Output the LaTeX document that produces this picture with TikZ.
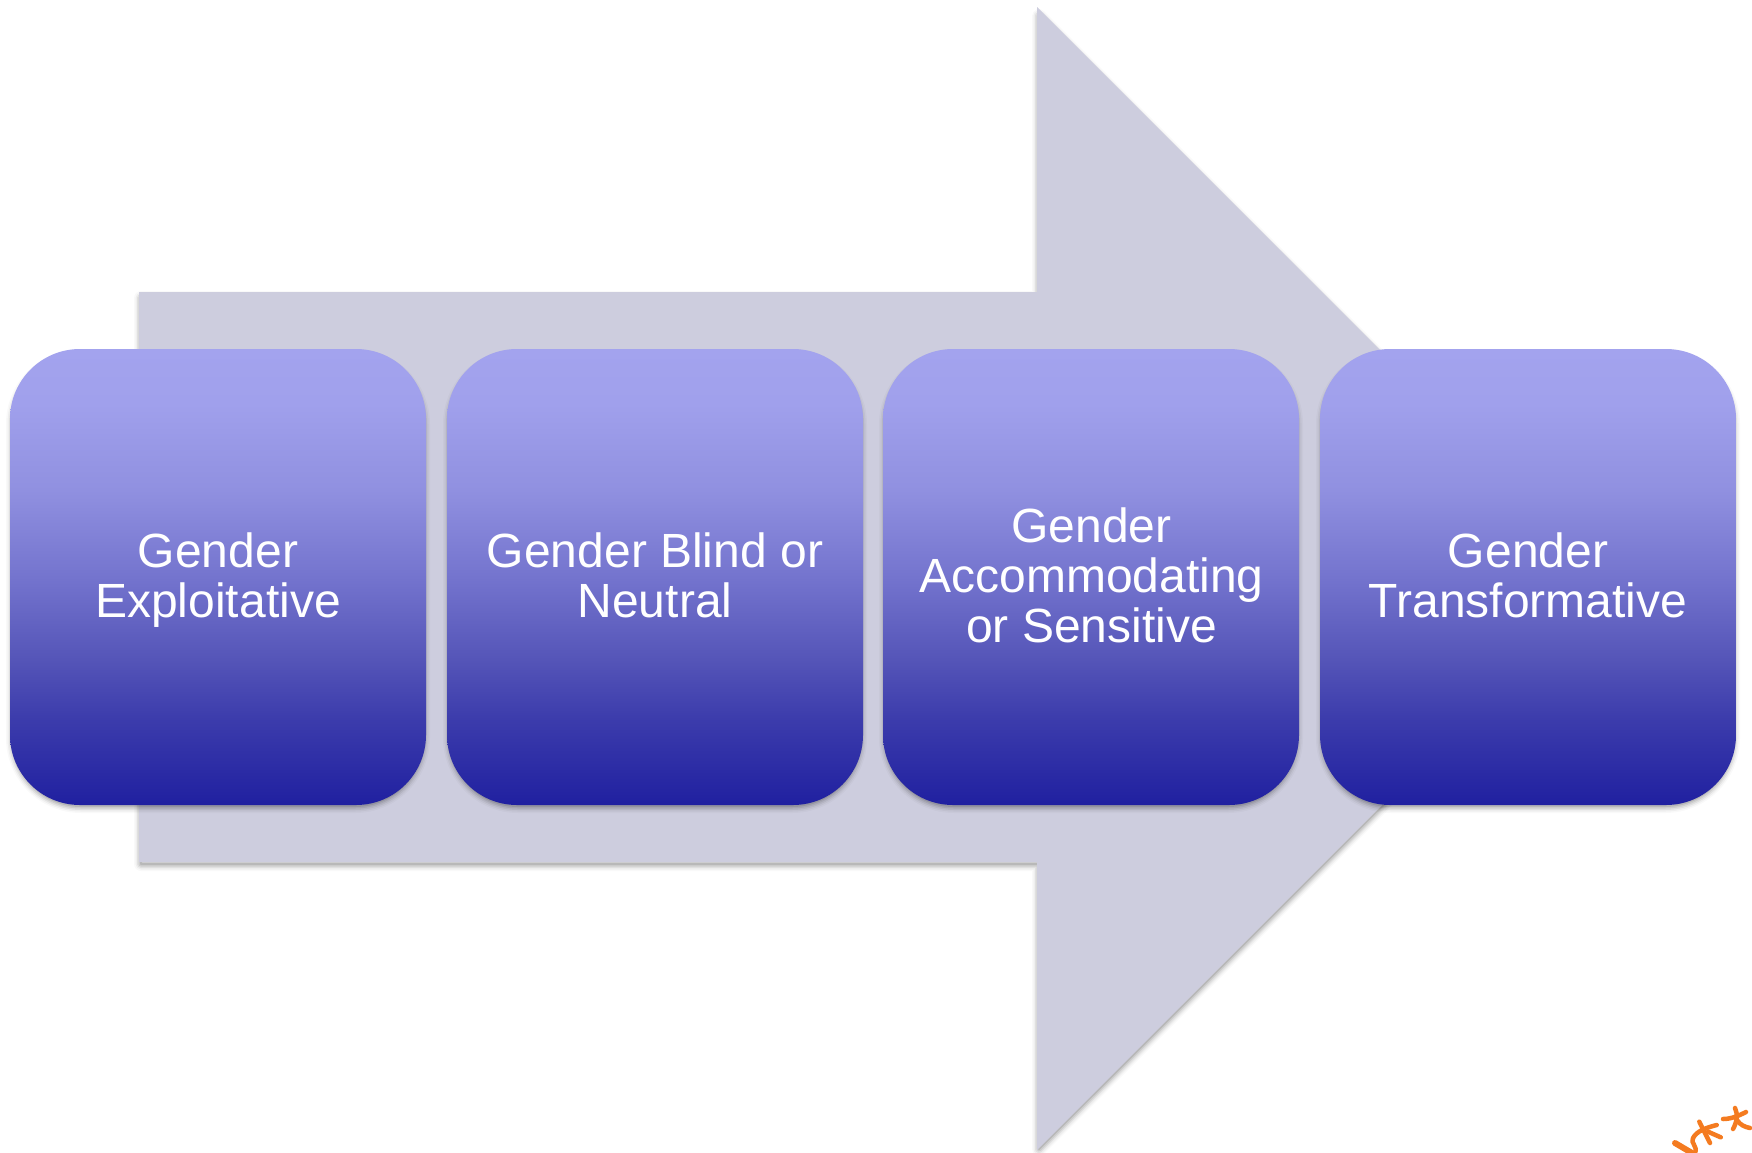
\documentclass[tikz,border=0pt]{standalone}
\usepackage{fontspec}
\setmainfont{Liberation Sans}
\definecolor{gbot}{HTML}{2020A0}
\definecolor{g1}{HTML}{3C3CAC}
\definecolor{g2}{HTML}{5555B8}
\definecolor{g3}{HTML}{7474CE}
\definecolor{g4}{HTML}{9090E0}
\definecolor{g5}{HTML}{A0A0EC}
\definecolor{gtop}{HTML}{A3A3EE}
\definecolor{arrowfill}{HTML}{CDCDDE}
\definecolor{scribble}{HTML}{F47B20}
\pgfdeclareverticalshading{boxgrad}{100bp}{
  color(0bp)=(gbot); color(25bp)=(gbot); color(34.5bp)=(g1); color(41bp)=(g2); color(50bp)=(g3); color(59.5bp)=(g4); color(69bp)=(g5); color(75bp)=(gtop); color(100bp)=(gtop)}
\tikzset{
  x=1pt,y=-1pt,
  boxstyle/.style={shading=boxgrad,rounded corners=70pt},
  labeltext/.style={text=white,align=center,font=\fontsize{48}{50}\selectfont,inner sep=0pt},
  stroke/.style={draw=scribble,line width=4.5pt,line cap=round,line join=round},
}
\newcommand{\softshadow}[1]{%
  \foreach \w/\o in {14/0.025,11/0.04,8/0.06,5/0.08,2/0.10}{
    \draw[black,line width=\w pt,opacity=\o,line join=round] #1;
  }}
\begin{document}
\begin{tikzpicture}
\useasboundingbox (0,0) rectangle (1752,1152);
\fill[white] (0,0) rectangle (1752,1152);
% arrow
\begin{scope}[shift={(0,4)}]
\softshadow{(141,294) -- (1039,294) -- (1039,12) -- (1606,578.5) -- (1039,1145) -- (1039,860) -- (141,860) -- cycle}
\end{scope}
\fill[arrowfill] (139,292) -- (1037,292) -- (1037,7) -- (1608.5,578.5) -- (1037,1150) -- (1037,862) -- (139,862) -- cycle;
% boxes
\foreach \nm/\xa in {a/10,b/447,c/883,d/1320}{
  \begin{scope}[shift={(0,4)}]
  \softshadow{[rounded corners=68pt] ({\xa+3},352) rectangle ++(410,450)}
  \end{scope}
  \path[boxstyle] (\xa,349) rectangle ++(416,456);
}
\node[labeltext] (t1) at (218,580.5) {Gender\\Exploitative};
\node[labeltext] (t2) at (655,575) {Gender Blind or\\Neutral};
\node[labeltext] (t3) at (1091.5,575) {Gender\\Accommodating\\or Sensitive};
\node[labeltext] (t4) at (1528,575) {Gender\\Transformative};
% scribble at the corner
\draw[stroke,line width=6pt] (1675,1143) -- (1692,1153);
\draw[stroke] (1699.3,1121.7) -- (1710,1143);
\draw[stroke] (1716.7,1125) .. controls (1705,1128) and (1697,1131) .. (1693,1138) .. controls (1690,1143) and (1698,1146) .. (1695,1153);
\draw[stroke] (1708,1131.7) -- (1720.7,1137.3);
\draw[stroke] (1735,1108) .. controls (1738,1114) and (1737,1122) .. (1733,1129);
\draw[stroke] (1723,1119) .. controls (1732,1119) and (1740,1115) .. (1746,1112);
\draw[stroke] (1737,1120) .. controls (1740,1125) and (1745,1127) .. (1750,1128);
\end{tikzpicture}
\end{document}
